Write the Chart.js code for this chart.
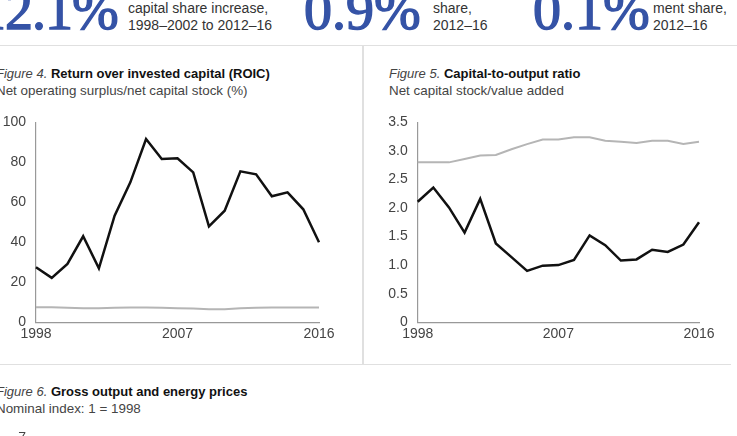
<!DOCTYPE html>
<html>
<head>
<meta charset="utf-8">
<script src="https://cdn.jsdelivr.net/npm/chart.js@4.4.1/dist/chart.umd.min.js"></script>
<style>
  html, body { margin: 0; padding: 0; background: #fff; }
  body { width: 737px; height: 436px; overflow: hidden; position: relative; font-family: "Liberation Sans", Arial, sans-serif; color: #333; }
  .big { position: absolute; top: -22px; font-family: "Liberation Serif", serif; font-weight: normal; font-size: 56px; line-height: 64px; color: #3553a6; white-space: nowrap; -webkit-text-stroke: 1.4px #3553a6; }
  .note { position: absolute; top: 0px; font-size: 14px; line-height: 16.5px; color: #333; white-space: nowrap; }
  .hline { position: absolute; height: 1.5px; background: #e0e0e0; }
  .vline { position: absolute; width: 1.5px; background: #e0e0e0; }
  .title { position: absolute; font-size: 13px; line-height: 17px; color: #222; white-space: nowrap; }
  .title i { color: #444; }
  .title b { color: #111; }
  .sub { color: #444; font-size: 13.4px; }
  canvas { position: absolute; }
  .box { position: absolute; }
</style>
</head>
<body>
<div class="big" style="left:-22px; letter-spacing:-1px">12.1%</div>
<div class="note" style="left:128px">capital share increase,<br>1998–2002 to 2012–16</div>
<div class="big" style="left:304px">0.9%</div>
<div class="note" style="left:433px">share,<br>2012–16</div>
<div class="big" style="left:533px">0.1%</div>
<div class="note" style="left:653px">ment share,<br>2012–16</div>

<div class="hline" style="left:0; top:44.5px; width:737px"></div>
<div class="vline" style="left:362px; top:45px; height:319px"></div>
<div class="hline" style="left:0; top:363.5px; width:731px"></div>

<div class="title" style="left:-4px; top:65px"><i>Figure 4.</i> <b>Return over invested capital (ROIC)</b><br><span class="sub">Net operating surplus/net capital stock (%)</span></div>
<div class="title" style="left:389px; top:65px"><i>Figure 5.</i> <b>Capital-to-output ratio</b><br><span class="sub">Net capital stock/value added</span></div>
<div class="title" style="left:-4px; top:383px"><i>Figure 6.</i> <b>Gross output and energy prices</b><br><span class="sub">Nominal index: 1 = 1998</span></div>

<div class="box" style="left:0; top:104px; width:350px; height:251px"><canvas id="c4"></canvas></div>
<div class="box" style="left:370px; top:104px; width:367px; height:251px"><canvas id="c5"></canvas></div>
<div class="box" style="left:0; top:420px; width:350px; height:200px"><canvas id="c6"></canvas></div>

<script>
const years = ['1998','1999','2000','2001','2002','2003','2004','2005','2006','2007','2008','2009','2010','2011','2012','2013','2014','2015','2016'];
const yearTicks = ['1998', '2007', '2016'];

// Figure 4: ROIC (%)
const roicBlack = [27.5, 22.2, 29.2, 43, 27, 53.3, 70, 91.7, 81.7, 82, 75, 48, 55.8, 75.5, 74, 63, 65, 56.5, 40];
const roicGray = [7.5, 7.5, 7.2, 7, 7, 7.2, 7.3, 7.3, 7.2, 7, 6.8, 6.5, 6.5, 7, 7.2, 7.3, 7.3, 7.3, 7.3];

// Figure 5: capital-to-output ratio
const ratioBlack = [2.11, 2.36, 2.01, 1.57, 2.16, 1.38, 1.14, 0.9, 0.99, 1.0, 1.09, 1.52, 1.35, 1.08, 1.1, 1.27, 1.23, 1.36, 1.75];
const ratioGray = [2.8, 2.8, 2.8, 2.86, 2.92, 2.93, 3.03, 3.12, 3.2, 3.2, 3.24, 3.24, 3.18, 3.16, 3.14, 3.18, 3.18, 3.12, 3.16];

const tickFont = { family: '"Liberation Sans", Arial, sans-serif', size: 14 };
const tickColor = '#444';

function lineChart(id, black, gray, yOpts, axisWidth, pad) {
  return new Chart(document.getElementById(id), {
    type: 'line',
    data: {
      labels: years,
      datasets: [
        { data: gray, borderColor: '#b5b5b5', borderWidth: 2, pointRadius: 0, tension: 0 },
        { data: black, borderColor: '#111', borderWidth: 2.5, pointRadius: 0, tension: 0 }
      ]
    },
    options: {
      responsive: true,
      maintainAspectRatio: false,
      animation: false,
      layout: { padding: pad },
      plugins: { legend: { display: false }, tooltip: { enabled: false } },
      scales: {
        x: {
          offset: false,
          grid: { display: false, drawTicks: false },
          border: { color: '#999', width: 1.2 },
          ticks: {
            autoSkip: false, maxRotation: 0, padding: 4, color: tickColor, font: tickFont,
            callback: (v, i) => yearTicks.includes(years[i]) ? years[i] : null
          }
        },
        y: Object.assign({
          grid: { display: false, drawTicks: false },
          border: { color: '#999', width: 1.2 },
          afterFit: s => { s.width = axisWidth; }
        }, yOpts)
      }
    }
  });
}

lineChart('c4', roicBlack, roicGray, {
  min: 0, max: 100,
  ticks: { stepSize: 20, padding: 10, color: tickColor, font: tickFont }
}, 36, { top: 10, right: 31, bottom: 8, left: 0 });

lineChart('c5', ratioBlack, ratioGray, {
  min: 0, max: 3.5,
  ticks: { stepSize: 0.5, padding: 10, color: tickColor, font: tickFont,
    callback: v => v === 0 ? '0' : v.toFixed(1) }
}, 47.7, { top: 10, right: 38, bottom: 8, left: 0 });

// Figure 6 (only the top of the axis is visible in the crop)
new Chart(document.getElementById('c6'), {
  type: 'line',
  data: { labels: years, datasets: [] },
  options: {
    responsive: true, maintainAspectRatio: false, animation: false,
    layout: { padding: { top: 12, right: 31, bottom: 8, left: 0 } },
    plugins: { legend: { display: false }, tooltip: { enabled: false } },
    scales: {
      x: { display: false },
      y: {
        min: 0, max: 7,
        grid: { display: false, drawTicks: false },
        border: { color: '#999', width: 1.2 },
        ticks: { stepSize: 1, padding: 10, color: tickColor, font: tickFont },
        afterFit: s => { s.width = 36; }
      }
    }
  }
});
</script>
</body>
</html>
